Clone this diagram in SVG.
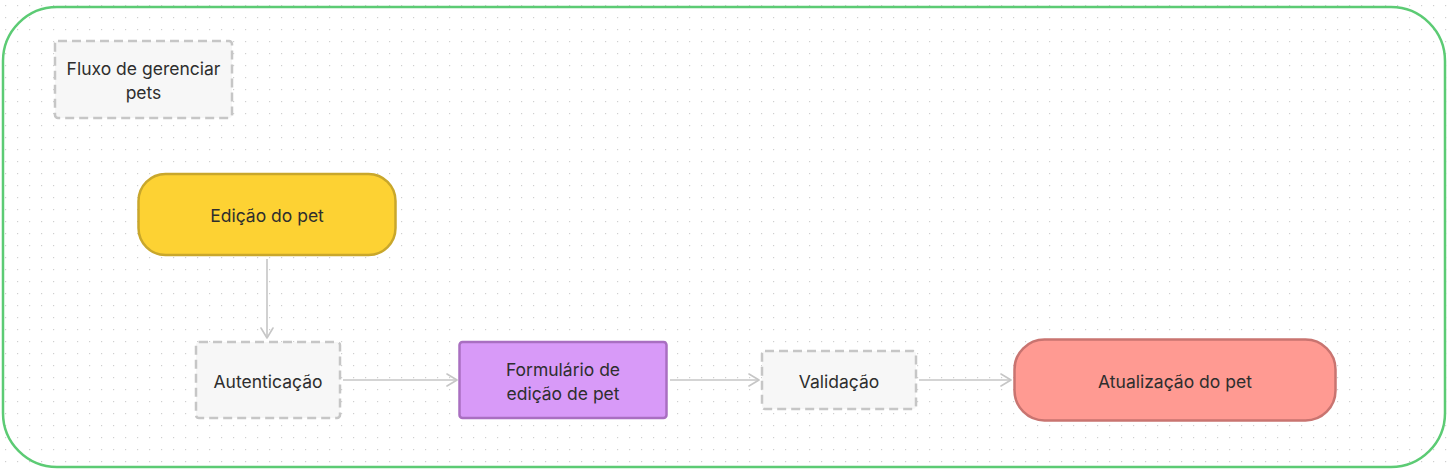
<svg xmlns="http://www.w3.org/2000/svg" width="1449" height="473" viewBox="0 0 1449 473">
<defs>
<pattern id="dots" x="5" y="5" width="12" height="12" patternUnits="userSpaceOnUse">
<rect x="0" y="0" width="1.2" height="1.2" fill="#cfcfcf"/>
</pattern>
<marker id="arr" viewBox="0 0 12 14" refX="11" refY="7" markerWidth="12" markerHeight="14" markerUnits="userSpaceOnUse" orient="auto">
<path d="M1,1 L11,7 L1,13" fill="none" stroke="#c6c6c6" stroke-width="1.6" stroke-linecap="round" stroke-linejoin="round"/>
</marker>
<style>
text{font-family:Inter,"Noto Sans","Liberation Sans",sans-serif;font-size:17.5px;fill:#2e2e2e;text-anchor:middle;dominant-baseline:central}
.dash{fill:#f7f7f7;stroke:#c6c6c6;stroke-width:2.5;stroke-dasharray:9 5}
.conn{fill:none;stroke:#c6c6c6;stroke-width:1.6;marker-end:url(#arr)}
</style>
</defs>
<rect width="1449" height="473" fill="#ffffff"/>
<rect width="1449" height="473" fill="url(#dots)"/>
<rect id="frame" x="3" y="7" width="1442" height="460" rx="54" fill="none" stroke="#5ccb74" stroke-width="2.5"/>
<g id="connectors">
<path class="conn" d="M267,259 V338"/>
<path class="conn" d="M343,380 H457"/>
<path class="conn" d="M670,380 H759"/>
<path class="conn" d="M919,380 H1011"/>
</g>
<g id="title">
<rect class="dash" x="55" y="41" width="177" height="77" rx="3"/>
<text x="143.5" y="68">Fluxo de gerenciar</text>
<text x="143.5" y="92">pets</text>
</g>
<g id="edicao">
<rect x="138.5" y="174" width="257" height="81" rx="27" fill="#fdd233" stroke="#c9a72b" stroke-width="2.5"/>
<text x="267" y="215">Edição do pet</text>
</g>
<g id="autenticacao">
<rect class="dash" x="196" y="342" width="144" height="76" rx="3"/>
<text x="268" y="381">Autenticação</text>
</g>
<g id="formulario">
<rect x="459.5" y="342" width="207" height="76" rx="3" fill="#d89af8" stroke="#a96fc1" stroke-width="2.5"/>
<text x="563" y="369">Formulário de</text>
<text x="563" y="393">edição de pet</text>
</g>
<g id="validacao">
<rect class="dash" x="762" y="351" width="154" height="58" rx="3"/>
<text x="839" y="381">Validação</text>
</g>
<g id="atualizacao">
<rect x="1014.5" y="339.5" width="321" height="81" rx="30" fill="#ff9a92" stroke="#c97470" stroke-width="2.5"/>
<text x="1175" y="381">Atualização do pet</text>
</g>
</svg>
